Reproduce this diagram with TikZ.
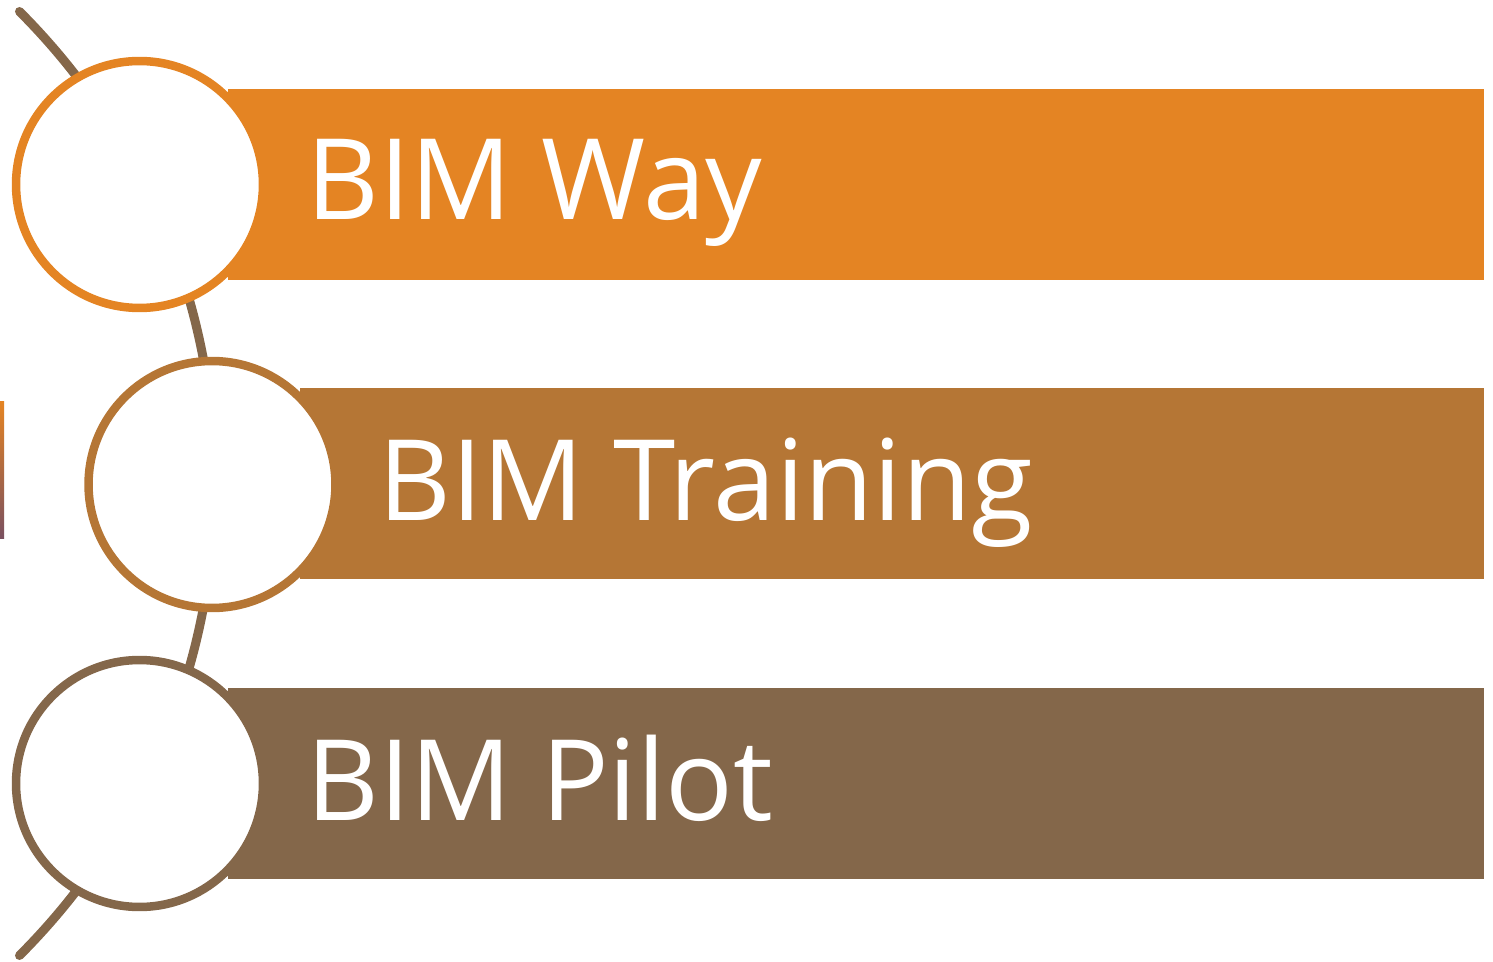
\documentclass[tikz,border=0pt]{standalone}
\usepackage{fontspec}
\setmainfont{Open Sans}
\definecolor{cOrange}{HTML}{E48423}
\definecolor{cCopper}{HTML}{B57635}
\definecolor{cBrown}{HTML}{84674A}
\definecolor{cPurple}{HTML}{7A5060}
\begin{document}
\begin{tikzpicture}[x=0.02cm,y=0.02cm,
  bar/.style={rectangle,draw=none,minimum height=3.82cm,inner sep=0},
  ring/.style={circle,fill=white,line width=0.17cm,minimum size=4.94cm,inner sep=0},
  label/.style={anchor=base west,text=white,inner sep=0,font=\fontsize{64}{64}\selectfont}]
\useasboundingbox (0,0) rectangle (1493,961);
% thin strip at left edge
\shade[top color=cOrange,bottom color=cPurple] (0,423) rectangle (4,559);
% backbone arc
\coordinate (arcc) at (-452.5,477.5);
\draw[cBrown,line width=0.18cm,line cap=round] (arcc) ++(-45:667.5) arc[start angle=-45,end angle=45,radius=667.5];
% bars
\node[bar,fill=cOrange,minimum width=25.12cm] (b1) at (856,776.5) {};
\node[bar,fill=cCopper,minimum width=23.68cm] (b2) at (892,477.5) {};
\node[bar,fill=cBrown,minimum width=25.12cm] (b3) at (856,177.5) {};
% circles
\node[ring,draw=cOrange] (c1) at (139.5,776.5) {};
\node[ring,draw=cCopper] (c2) at (212,476.5) {};
\node[ring,draw=cBrown] (c3) at (139.5,177.5) {};
% labels
\node[label] (t1) at (306,741) {BIM Way};
\node[label] (t2) at (378,441) {BIM Training};
\node[label] (t3) at (306,141) {BIM Pilot};
\end{tikzpicture}
\end{document}
